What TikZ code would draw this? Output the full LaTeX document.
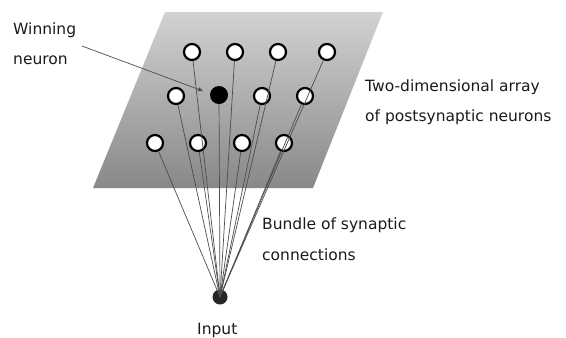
\documentclass[tikz,border=0pt]{standalone}
\usepackage{fontspec}
\setmainfont{DejaVu Sans}
\usetikzlibrary{arrows.meta}
\definecolor{planetop}{HTML}{D2D2D2}
\definecolor{planebot}{HTML}{888888}
\definecolor{txt}{HTML}{1A1A1A}
\begin{document}
\begin{tikzpicture}[x=1bp,y=-1bp,
  neuron/.style={circle,draw=black,line width=2.2bp,fill=white,minimum size=16bp,inner sep=0pt},
  winner/.style={circle,fill=black,minimum size=18bp,inner sep=0pt},
  inputnode/.style={circle,fill=black!85,minimum size=15bp,inner sep=0pt},
  syn/.style={draw=black!70,line width=0.7bp},
  lbl/.style={anchor=base west,inner sep=0pt,text=txt,font=\fontsize{15.5bp}{17bp}\selectfont}]
\useasboundingbox (0,0) rectangle (566,337);
\shade[top color=planetop,bottom color=planebot] (165,12) -- (383,12) -- (313,188) -- (93,188) -- cycle;
% neurons
\node[neuron] (a1) at (192,52) {};
\node[neuron] (a2) at (235,52) {};
\node[neuron] (a3) at (278,52) {};
\node[neuron] (a4) at (327,52) {};
\node[neuron] (b1) at (176,96) {};
\node[winner] (b2) at (219,95) {};
\node[neuron] (b3) at (262,96) {};
\node[neuron] (b4) at (305,96) {};
\node[neuron] (c1) at (155,143) {};
\node[neuron] (c2) at (198,143) {};
\node[neuron] (c3) at (242,143) {};
\node[neuron] (c4) at (284,143) {};
\node[inputnode] (in) at (220,297) {};
% synaptic connections
\foreach \n in {a1,a2,a3,a4,b1,b2,b3,b4,c1,c2,c3,c4}
  \draw[syn] (in.center) -- (\n);
% labels
\node[lbl] (win1) at (13,34) {Winning};
\node[lbl] (win2) at (13,64) {neuron};
\coordinate (wstart) at (82,46);
\draw[draw=black!70,line width=0.7bp,-{Triangle[length=5bp,width=4bp]}] (wstart) -- (203,91);
\node[lbl] (arr1) at (365,91) {Two-dimensional array};
\node[lbl] (arr2) at (365,121) {of postsynaptic neurons};
\node[lbl] (bun1) at (262,229) {Bundle of synaptic};
\node[lbl] (bun2) at (262,260) {connections};
\node[lbl] (inp) at (197,334) {Input};
\end{tikzpicture}
\end{document}
